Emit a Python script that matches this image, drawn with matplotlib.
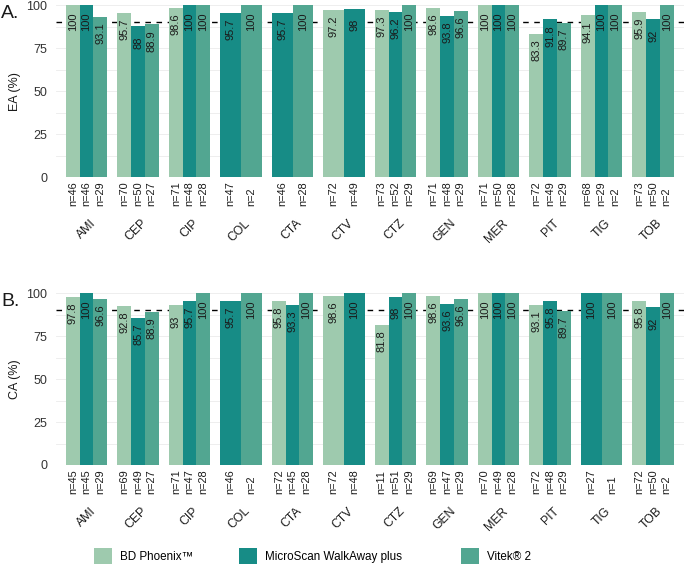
import matplotlib
matplotlib.use('Agg')
import matplotlib.pyplot as plt
from matplotlib.patches import Patch
import numpy as np

plt.rcParams['font.family'] = ['Liberation Sans', 'DejaVu Sans']

drugs = ['AMI', 'CEP', 'CIP', 'COL', 'CTA', 'CTV', 'CTZ', 'GEN', 'MER', 'PIT', 'TIG', 'TOB']
devices = ['BD Phoenix™', 'MicroScan WalkAway plus', 'Vitek® 2']
colors = ['#9ecaae', '#178c86', '#52a691']
nan = np.nan

# A. essential agreement
ea_phoenix = [100, 95.7, 98.6, nan, nan, 97.2, 97.3, 98.6, 100, 83.3, 94.1, 95.9]
ea_microscan = [100, 88, 100, 95.7, 95.7, 98, 96.2, 93.8, 100, 91.8, 100, 92]
ea_vitek = [93.1, 88.9, 100, 100, 100, nan, 100, 96.6, 100, 89.7, 100, 100]
ea_n_phoenix = [46, 70, 71, 0, 0, 72, 73, 71, 71, 72, 68, 73]
ea_n_microscan = [46, 50, 48, 47, 46, 49, 52, 48, 50, 49, 29, 50]
ea_n_vitek = [29, 27, 28, 2, 28, 0, 29, 29, 28, 29, 2, 2]

# B. categorical agreement
ca_phoenix = [97.8, 92.8, 93, nan, 95.8, 98.6, 81.8, 98.6, 100, 93.1, nan, 95.8]
ca_microscan = [100, 85.7, 95.7, 95.7, 93.3, 100, 98, 93.6, 100, 95.8, 100, 92]
ca_vitek = [96.6, 88.9, 100, 100, 100, nan, 100, 96.6, 100, 89.7, 100, 100]
ca_n_phoenix = [45, 69, 71, 0, 72, 72, 11, 69, 70, 72, 0, 72]
ca_n_microscan = [45, 49, 47, 46, 45, 48, 51, 47, 49, 48, 27, 50]
ca_n_vitek = [29, 27, 28, 2, 28, 0, 29, 29, 28, 29, 1, 2]


def draw_panel(ax, vals, ns, ylabel, tag):
    # grid + threshold line behind the bars
    for yy in np.arange(0, 101, 12.5):
        ax.axhline(yy, color='#ebebeb', lw=0.6, zorder=0)
    ax.axhline(90, color='black', lw=1.0, ls=(0, (4, 4)), zorder=1)

    for i in range(len(drugs)):
        present = [d for d in range(3) if not np.isnan(vals[d][i])]
        w = 0.8 / len(present)
        for j, d in enumerate(present):
            x = i - 0.4 + w * (j + 0.5)
            v = vals[d][i]
            ax.bar(x, v, width=w, color=colors[d], zorder=2)
            lab = '%g' % v
            ax.text(x, v - 9.5, lab, rotation=90, ha='center', va='center',
                    fontsize=8, color='#1a1a1a', zorder=3)
            ax.annotate('n=%d' % ns[d][i], xy=(x, 0), xycoords=('data', 'axes fraction'),
                        xytext=(0, -29), textcoords='offset pixels',
                        rotation=90, ha='left', va='center', rotation_mode='anchor',
                        fontsize=7.9, color='#1a1a1a', annotation_clip=False)
        ax.annotate(drugs[i], xy=(i, 0), xycoords=('data', 'axes fraction'),
                    xytext=(3, -40), textcoords='offset pixels',
                    rotation=45, ha='right', va='top', rotation_mode='anchor',
                    fontsize=8.8, color='#1a1a1a', annotation_clip=False)

    ax.set_xlim(-0.6, 11.6)
    ax.set_ylim(0, 100)
    ax.set_yticks([0, 25, 50, 75, 100])
    ax.set_xticks([])
    ax.tick_params(axis='y', length=0, pad=6, labelsize=9, labelcolor='#333333')
    for s in ax.spines.values():
        s.set_visible(False)
    ax.set_ylabel(ylabel, fontsize=9, color='#1a1a1a', labelpad=4)
    ax.text(-0.087, 1.0, tag, transform=ax.transAxes, fontsize=14,
            ha='left', va='top', color='#1a1a1a')


fig = plt.figure(figsize=(6.85, 5.67), dpi=100)
ax1 = fig.add_axes([0.0812, 0.6873, 0.9172, 0.3034])
ax2 = fig.add_axes([0.0812, 0.1799, 0.9172, 0.3028])

draw_panel(ax1, [ea_phoenix, ea_microscan, ea_vitek],
           [ea_n_phoenix, ea_n_microscan, ea_n_vitek], 'EA (%)', 'A.')
draw_panel(ax2, [ca_phoenix, ca_microscan, ca_vitek],
           [ca_n_phoenix, ca_n_microscan, ca_n_vitek], 'CA (%)', 'B.')

# one legend entry per device, placed like the original
key_x = [94, 239, 461]
for c, l, kx in zip(colors, devices, key_x):
    fig.legend(handles=[Patch(facecolor=c, label=l)], loc='center left',
               bbox_to_anchor=(kx / 685, 0.019), frameon=False, fontsize=8.4,
               handlelength=1.5, handleheight=1.7, handletextpad=0.7,
               borderpad=0, borderaxespad=0)

fig.savefig('out.png', dpi=100)
